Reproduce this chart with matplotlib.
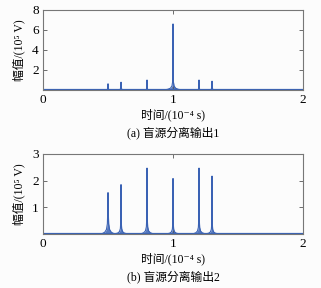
import numpy as np
import matplotlib
matplotlib.use('Agg')
import matplotlib.pyplot as plt

plt.rcParams['font.family'] = ['Liberation Serif', 'DejaVu Serif', 'Noto Sans CJK SC']

# peak positions (10^-4 s) and amplitudes (10^5 V)
peak_pos = [0.5, 0.6, 0.8, 1.0, 1.2, 1.3]
peak_a = [0.62, 0.78, 1.0, 6.6, 1.0, 0.88]
shoulder_a = [0.15, 0.2, 0.15, 0.9, 0.15, 0.2]
peak_b = [1.55, 1.85, 2.47, 2.08, 2.47, 2.17]
shoulder_b = [0.85, 0.45, 0.6, 0.4, 0.55, 0.4]

# skirt profile around each peak (offset, fraction of shoulder height)
skirt_off = [-0.05, -0.025, -0.012, -0.005, -0.002, 0.002, 0.005, 0.012, 0.025, 0.05]
skirt_frac = [0.0, 0.08, 0.2, 0.45, 1.0, 1.0, 0.45, 0.2, 0.08, 0.0]
wide_off = [-0.07, -0.04, -0.02, -0.008, -0.002, 0.002, 0.008, 0.02, 0.04, 0.07]

blue = '#3a62b4'


def build(heights, shoulders, wide_idx=None):
    xs, ys = [0.0], [0.0]
    for i, c in enumerate(peak_pos):
        offs = wide_off if i == wide_idx else skirt_off
        pts = [(c + o, shoulders[i] * f) for o, f in zip(offs, skirt_frac)]
        pts.insert(5, (c, heights[i]))
        for x, y in pts:
            xs.append(x)
            ys.append(y)
    xs.append(2.0)
    ys.append(0.0)
    order = np.argsort(xs, kind='stable')
    return np.array(xs)[order], np.array(ys)[order]


fig = plt.figure(figsize=(3.21, 2.88), dpi=100)
fig.patch.set_facecolor('#fcfcfc')

panels = [
    (0.6875, peak_a, shoulder_a, 3, 8, [2, 4, 6, 8], '(a) 盲源分离输出1'),
    (0.1875, peak_b, shoulder_b, None, 3, [1, 2, 3], '(b) 盲源分离输出2'),
]

for bottom, h, s, wide, ymax, yt, cap in panels:
    ax = fig.add_axes([0.134, bottom, 0.81, 0.278])
    ax.set_facecolor('#fcfcfc')
    x, y = build(h, s, wide)
    ax.fill_between(x, 0, y, color=blue, lw=0, alpha=0.85)
    ax.plot(x, y, color=blue, lw=0.8)
    ax.plot([0, 2], [0, 0], color=blue, lw=1.6)
    ax.set_xlim(0, 2)
    ax.set_ylim(0, ymax)
    ax.set_xticks([0, 1, 2])
    ax.set_yticks(yt)
    ax.tick_params(direction='in', top=True, right=True, length=3,
                   width=0.6, color='#555555', labelsize=9.5, pad=3)
    for sp in ax.spines.values():
        sp.set_color('#777777')
        sp.set_linewidth(0.8)
    ax.set_ylabel('幅值/(10⁵ V)', fontsize=8.5, labelpad=5)
    ax.set_xlabel('时间/(10⁻⁴ s)', fontsize=8.5, labelpad=2)
    ax.text(0.5, -0.54, cap, transform=ax.transAxes, ha='center',
            va='center', fontsize=8.5)

fig.savefig('out.png', dpi=100, facecolor=fig.get_facecolor())
